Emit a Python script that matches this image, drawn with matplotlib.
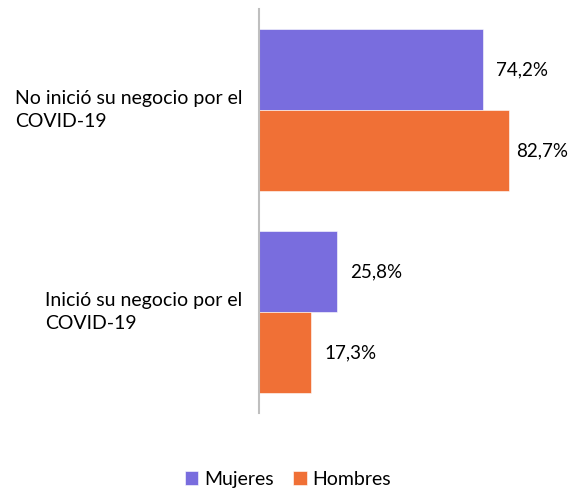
import matplotlib.pyplot as plt
import numpy as np

plt.rcParams['font.family'] = ['Lato', 'DejaVu Sans']

# Data
categories = ["No inició su negocio por el\nCOVID-19", "Inició su negocio por el\nCOVID-19"]
series_names = ["Mujeres", "Hombres"]
mujeres = [74.2, 25.8]
hombres = [82.7, 17.3]
colors = ["#796DDE", "#F07036"]

fig = plt.figure(figsize=(5.76, 4.90), dpi=100)
ax = fig.add_axes([259 / 576, 77 / 490, 302 / 576, 404 / 490])

y = np.arange(len(categories))
h = 0.4

for i, (vals, name, col) in enumerate(zip([mujeres, hombres], series_names, colors)):
    bars = ax.barh(y - h / 2 + i * h, vals, height=h, color=col, label=name,
                   edgecolor="white", linewidth=0.4)
    for b, v in zip(bars, vals):
        ax.annotate(f"{v:.1f}%".replace(".", ","),
                    xy=(b.get_width(), b.get_y() + b.get_height() / 2),
                    xytext=(5 if v > 80 else 9.5, 0), textcoords="offset points",
                    va="center", ha="left", fontsize=13.5, color="#000000")

ax.set_xlim(0, 100)
ax.set_ylim(1.5, -0.5)
ax.set_yticks(y)
ax.set_yticklabels(categories, fontsize=14, ha="right", multialignment="left",
                   linespacing=1.45, va="center")
ax.tick_params(axis="y", length=0, pad=12)
ax.set_xticks([])
for side in ["top", "right", "bottom"]:
    ax.spines[side].set_visible(False)
ax.spines["left"].set_color("#BFBFBF")
ax.spines["left"].set_linewidth(1.5)

fig.legend(loc="center", bbox_to_anchor=(0.5, 1 - 479 / 490), ncol=2, frameon=False,
           fontsize=14, handlelength=0.7, handleheight=0.7, handletextpad=0.3,
           columnspacing=1.0)

fig.savefig("out.png", dpi=100)
